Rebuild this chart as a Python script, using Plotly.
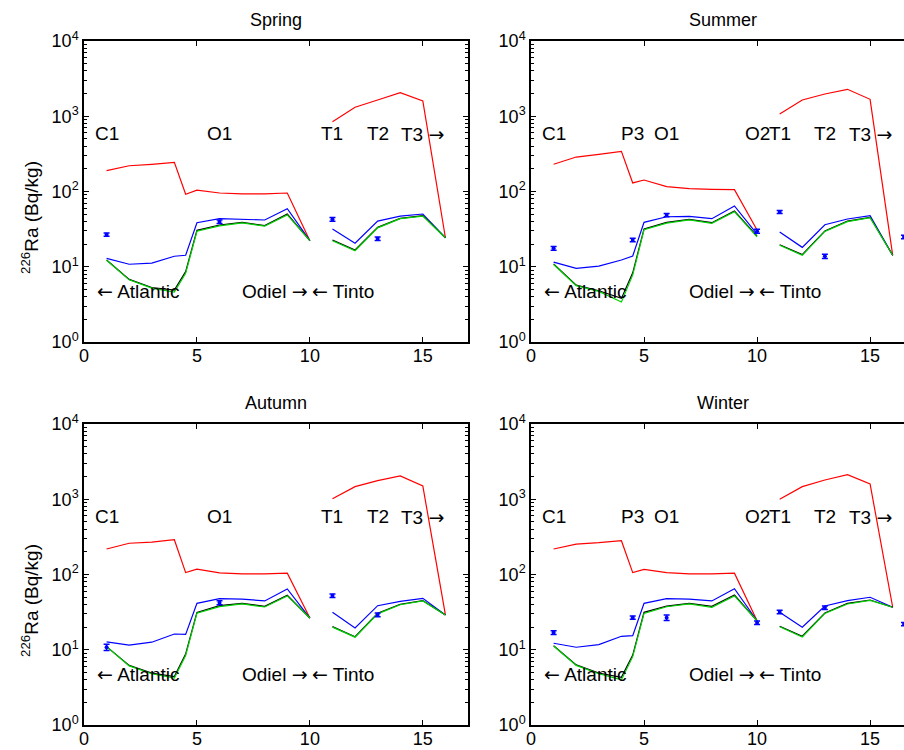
import plotly.graph_objects as go

# Station positions along the estuary transect (None value at 10.5 breaks the line
# between the Odiel and Tinto branches)
STATIONS = [1, 2, 3, 4, 4.5, 5, 6, 7, 8, 9, 10, 10.5, 11, 12, 13, 14, 15, 16]

# 226Ra model curves (Bq/kg) per season
spring_red   = [189, 220, 230, 244, 92, 104, 95.5, 93, 93, 95.5, 22.2, None, 847, 1315, 1644, 2056, 1595, 24.3]
spring_blue  = [12.9, 10.8, 11.2, 13.8, 14.2, 38.5, 43.6, 43, 41.8, 59, 22.2, None, 31.7, 20.5, 40.5, 47.2, 50.2, 24.3]
spring_black = [12.3, 6.8, 5.3, 4.9, 8.6, 30.5, 35.9, 38.9, 35.2, 50.2, 22.2, None, 22.7, 16.7, 33.4, 44, 47.7, 24.3]
spring_green = [12.2, 6.7, 5.2, 4.6, 8.2, 29.6, 35, 38.3, 34.7, 48.8, 22.2, None, 22.2, 16.3, 32.9, 43.6, 47, 24.3]

summer_red   = [230, 287, 312, 342, 130, 142, 116, 109, 107, 106, 30.8, None, 1072, 1644, 1976, 2280, 1680, 14.2]
summer_blue  = [11.5, 9.5, 10.2, 12.3, 13.9, 38.9, 46.2, 46.6, 43.5, 64.2, 27.2, None, 29, 18.1, 36.2, 43.1, 47.7, 14.2]
summer_black = [10.9, 5.7, 4.8, 3.8, 8.3, 31.8, 38.9, 42.7, 38.5, 55, 25.6, None, 19.6, 14.5, 29.9, 40.5, 45.4, 14.2]
summer_green = [10.7, 5.6, 4.7, 3.4, 7.8, 31, 38, 42, 37.7, 54, 25, None, 19.3, 14.2, 29.5, 39.7, 45, 14.2]

autumn_red   = [218, 260, 270, 290, 106, 118, 105, 102, 102, 104, 26.4, None, 1018, 1469, 1764, 2037, 1500, 29]
autumn_blue  = [12.7, 11.5, 12.6, 16.2, 16, 41.4, 47.7, 47.2, 44.5, 64.2, 26.4, None, 31.4, 19.5, 38.5, 44, 48.2, 29]
autumn_black = [11, 6.2, 4.9, 4.4, 8.8, 31.4, 38.5, 41.4, 37.8, 52.9, 26.4, None, 20.3, 14.9, 30.5, 40.2, 45, 29]
autumn_green = [11, 6.1, 4.8, 4.2, 8.4, 30.6, 37.5, 40.6, 37, 52, 26.4, None, 20, 14.7, 30, 39.6, 44.5, 29]

winter_red   = [218, 254, 265, 281, 106, 117, 106, 102, 102, 104, 24.3, None, 998, 1469, 1803, 2120, 1595, 36.7]
winter_blue  = [12.2, 10.8, 11.7, 15.1, 15.4, 41.4, 47.7, 47.2, 44.5, 64.8, 24.3, None, 31.4, 19.9, 38.1, 44.9, 49.8, 36.7]
winter_black = [11.3, 6.3, 4.9, 4.3, 8.5, 31.4, 38.1, 41.4, 37.8, 53.3, 24.3, None, 20.5, 15.1, 30.8, 41.4, 45.8, 36.7]
winter_green = [11.2, 6.2, 4.8, 4.0, 8.1, 30.4, 37.3, 40.6, 36.6, 52, 24.3, None, 20.2, 14.8, 30.4, 40.6, 45.2, 36.7]

# Measured 226Ra with uncertainties
spring_obs_x = [1, 6, 11, 13]
spring_obs_y = [26.7, 39.7, 42.7, 23.6]
spring_obs_e = [1.3, 2.0, 2.5, 1.3]

summer_obs_x = [1, 4.5, 6, 10, 11, 13, 16.5]
summer_obs_y = [17.6, 22.7, 48.7, 29.6, 53.4, 13.8, 24.9]
summer_obs_e = [1.0, 1.2, 2.5, 1.8, 2.5, 0.9, 1.3]

autumn_obs_x = [1, 6, 11, 13]
autumn_obs_y = [10.8, 42.2, 52.3, 29.2]
autumn_obs_e = [1.0, 2.5, 2.8, 1.7]

winter_obs_x = [1, 4.5, 6, 10, 11, 13, 16.5]
winter_obs_y = [16.9, 26.7, 26.7, 22.9, 31.8, 36.2, 22.0]
winter_obs_e = [1.0, 1.3, 2.3, 1.2, 1.8, 2.0, 1.1]

# arrows drawn with DejaVu Sans, whose arrow glyphs are long and full height
LARR = '<span style="font-family:DejaVu Sans">\u2190</span>'
RARR = '<span style="font-family:DejaVu Sans">\u2192</span>'

labels_short = [("C1", 1), ("O1", 6), ("T1", 11), ("T2", 13), ("T3 " + RARR, 15)]
labels_long = [("C1", 1), ("P3", 4.5), ("O1", 6), ("O2", 10), ("T1", 11), ("T2", 13), ("T3 " + RARR, 15)]

panels = [
    ("Spring", spring_red, spring_blue, spring_black, spring_green,
     spring_obs_x, spring_obs_y, spring_obs_e, labels_short),
    ("Summer", summer_red, summer_blue, summer_black, summer_green,
     summer_obs_x, summer_obs_y, summer_obs_e, labels_long),
    ("Autumn", autumn_red, autumn_blue, autumn_black, autumn_green,
     autumn_obs_x, autumn_obs_y, autumn_obs_e, labels_short),
    ("Winter", winter_red, winter_blue, winter_black, winter_green,
     winter_obs_x, winter_obs_y, winter_obs_e, labels_long),
]

W, H = 904, 750
FONT = "Liberation Sans, Arial, Helvetica, sans-serif"

# pixel boxes of the four axes (left, right, top, bottom); right column is cut at the page edge
boxes = [
    (84, 468, 41, 342),
    (531, 904, 41, 342),
    (84, 468, 424, 725),
    (531, 904, 424, 725),
]
xranges = [[0, 17], [0, 16.5], [0, 17], [0, 16.5]]
PX_PER_UNIT = (468 - 84) / 17.0

fig = go.Figure()
layout = dict(
    template="none",
    width=W, height=H,
    margin=dict(l=0, r=0, t=0, b=0, autoexpand=False),
    paper_bgcolor="white", plot_bgcolor="white",
    showlegend=False,
    font=dict(family=FONT, size=18, color="black"),
)

minor_vals = [m * 10 ** e for e in range(0, 4) for m in range(2, 10)]
annotations = []

for i, (name, red, blue, black, green, ox, oy, oe, labels) in enumerate(panels):
    xa = "x" if i == 0 else f"x{i + 1}"
    ya = "y" if i == 0 else f"y{i + 1}"
    xkey = "xaxis" if i == 0 else f"xaxis{i + 1}"
    ykey = "yaxis" if i == 0 else f"yaxis{i + 1}"
    l, r, t, b = boxes[i]
    right_col = i % 2 == 1

    for vals, col in ((red, "#ff0000"), (blue, "#0000ff"), (black, "#000000"), (green, "#00d000")):
        fig.add_trace(go.Scatter(
            x=STATIONS, y=vals, mode="lines", xaxis=xa, yaxis=ya,
            line=dict(color=col, width=1.2), connectgaps=False, hoverinfo="skip"))

    fig.add_trace(go.Scatter(
        x=ox, y=oy, mode="markers", xaxis=xa, yaxis=ya,
        marker=dict(color="#0000ff", size=4, symbol="circle"),
        error_y=dict(type="data", array=oe, visible=True, color="#0000ff",
                     thickness=1.5, width=3),
        hoverinfo="skip"))

    layout[xkey] = dict(
        domain=[l / W, r / W], range=xranges[i], anchor=ya, automargin=False,
        tickvals=[0, 5, 10, 15], ticktext=["0", "5", "10", "15"],
        ticks="inside", ticklen=5, tickwidth=1, tickcolor="black",
        ticklabelstandoff=-3,
        showline=True, linecolor="black", linewidth=1.5, mirror="ticks",
        showgrid=False, zeroline=False,
        tickfont=dict(family=FONT, size=18, color="black"),
    )
    layout[ykey] = dict(
        domain=[1 - b / H, 1 - t / H], type="log", range=[0, 4], anchor=xa,
        automargin=False,
        tickvals=[1, 10, 100, 1000, 10000],
        ticktext=["10<sup>0</sup>", "10<sup>1</sup>", "10<sup>2</sup>",
                  "10<sup>3</sup>", "10<sup>4</sup>"],
        ticks="inside", ticklen=5, tickwidth=1, tickcolor="black",
        minor=dict(tickvals=minor_vals, ticks="inside", ticklen=3,
                   tickcolor="black", showgrid=False),
        showline=True, linecolor="black", linewidth=1.5,
        mirror=False if right_col else "ticks",
        showgrid=False, zeroline=False,
        tickfont=dict(family=FONT, size=18, color="black"),
    )

    # season title, centred over the full 0-17 axis width
    cx = l + 8.5 * PX_PER_UNIT
    annotations.append(dict(
        text=name, x=cx / W, y=1 - (t - 21) / H, xref="paper", yref="paper",
        showarrow=False, font=dict(family=FONT, size=18),
        xanchor="center", yanchor="middle"))

    # station labels
    for txt, xv in labels:
        annotations.append(dict(
            text=txt, x=xv, y=2.77, xref=xa, yref=ya, showarrow=False,
            font=dict(family=FONT, size=19), xanchor="center", yanchor="middle"))
    annotations.append(dict(
        text=LARR + " Atlantic", x=0.5, y=0.68, xref=xa, yref=ya, showarrow=False,
        font=dict(family=FONT, size=19), xanchor="left", yanchor="middle"))
    annotations.append(dict(
        text="Odiel " + RARR, x=10, y=0.68, xref=xa, yref=ya, showarrow=False,
        font=dict(family=FONT, size=19), xanchor="right", yanchor="middle"))
    annotations.append(dict(
        text=LARR + " Tinto", x=10, y=0.68, xref=xa, yref=ya, showarrow=False,
        font=dict(family=FONT, size=19), xanchor="left", yanchor="middle"))

    # y-axis title on the left column
    if not right_col:
        annotations.append(dict(
            text="<sup>226</sup>Ra (Bq/kg)", x=30 / W, y=1 - (t + 177) / H,
            xref="paper", yref="paper", showarrow=False, textangle=-90,
            font=dict(family=FONT, size=19), xanchor="center", yanchor="middle"))

layout["annotations"] = annotations
fig.update_layout(**layout)
fig.write_html("out.html")
